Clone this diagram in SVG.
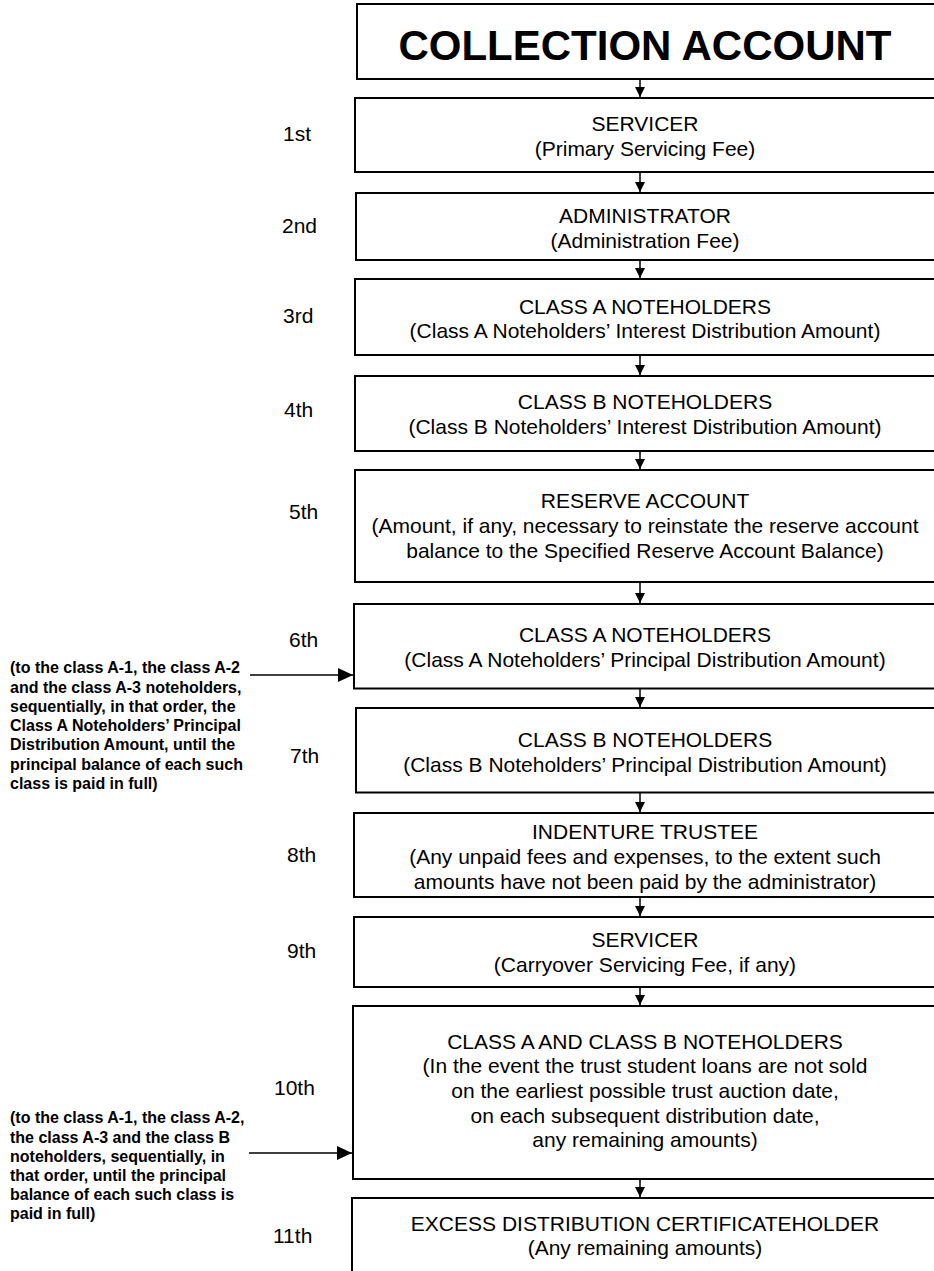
<svg xmlns="http://www.w3.org/2000/svg" width="934" height="1271" viewBox="0 0 934 1271">
<style>
.box{fill:#fff;stroke:#000;stroke-width:2}
.t{font-family:"Liberation Sans",Arial,sans-serif;font-size:21px;fill:#000;text-anchor:middle}
.title{font-family:"Liberation Sans",Arial,sans-serif;font-size:42px;font-weight:bold;fill:#000;text-anchor:middle}
.ord{font-family:"Liberation Sans",Arial,sans-serif;font-size:21px;fill:#000}
.note{font-family:"Liberation Sans",Arial,sans-serif;font-size:16px;font-weight:bold;fill:#000}
.c{stroke:#000;stroke-width:1.5;fill:none}
</style>
<defs>
<marker id="sm" markerUnits="userSpaceOnUse" markerWidth="10" markerHeight="10" refX="10" refY="5" orient="auto" viewBox="0 0 10 10"><path d="M0,0 L10,5 L0,10 z" fill="#000"/></marker>
<marker id="lg" markerUnits="userSpaceOnUse" markerWidth="15" markerHeight="14" refX="15" refY="7" orient="auto" viewBox="0 0 15 14"><path d="M0,0 L15,7 L0,14 z" fill="#000"/></marker>
</defs>
<g id="connectors">
<line class="c" x1="640" y1="79" x2="640" y2="97" marker-end="url(#sm)"/>
<line class="c" x1="640" y1="172" x2="640" y2="192" marker-end="url(#sm)"/>
<line class="c" x1="640" y1="260" x2="640" y2="278" marker-end="url(#sm)"/>
<line class="c" x1="640" y1="355" x2="640" y2="375" marker-end="url(#sm)"/>
<line class="c" x1="640" y1="451" x2="640" y2="469" marker-end="url(#sm)"/>
<line class="c" x1="640" y1="582" x2="640" y2="603" marker-end="url(#sm)"/>
<line class="c" x1="640" y1="688" x2="640" y2="707" marker-end="url(#sm)"/>
<line class="c" x1="640" y1="792" x2="640" y2="812" marker-end="url(#sm)"/>
<line class="c" x1="640" y1="897" x2="640" y2="916" marker-end="url(#sm)"/>
<line class="c" x1="640" y1="987" x2="640" y2="1005" marker-end="url(#sm)"/>
<line class="c" x1="640" y1="1179" x2="640" y2="1197" marker-end="url(#sm)"/>
<line class="c" x1="250" y1="675" x2="353" y2="675" marker-end="url(#lg)"/>
<line class="c" x1="249" y1="1153" x2="352" y2="1153" marker-end="url(#lg)"/>
</g>
<g id="collection">
<rect class="box" x="357" y="4" width="600" height="75"/>
<text class="title" x="645" y="60">COLLECTION ACCOUNT</text>
</g>
<g id="n1">
<rect class="box" x="355" y="98" width="600" height="74"/>
<text class="t" x="645" y="131">SERVICER</text>
<text class="t" x="645" y="156">(Primary Servicing Fee)</text>
<text class="ord" x="283" y="141">1st</text>
</g>
<g id="n2">
<rect class="box" x="356" y="193" width="600" height="67"/>
<text class="t" x="645" y="223">ADMINISTRATOR</text>
<text class="t" x="645" y="247.5">(Administration Fee)</text>
<text class="ord" x="282" y="233">2nd</text>
</g>
<g id="n3">
<rect class="box" x="355" y="279" width="600" height="76"/>
<text class="t" x="645" y="313.5">CLASS A NOTEHOLDERS</text>
<text class="t" x="645" y="338">(Class A Noteholders’ Interest Distribution Amount)</text>
<text class="ord" x="283" y="323">3rd</text>
</g>
<g id="n4">
<rect class="box" x="355" y="376" width="600" height="75"/>
<text class="t" x="645" y="409">CLASS B NOTEHOLDERS</text>
<text class="t" x="645" y="434">(Class B Noteholders’ Interest Distribution Amount)</text>
<text class="ord" x="284" y="417">4th</text>
</g>
<g id="n5">
<rect class="box" x="355" y="470" width="600" height="112"/>
<text class="t" x="645" y="508">RESERVE ACCOUNT</text>
<text class="t" x="645" y="533">(Amount, if any, necessary to reinstate the reserve account</text>
<text class="t" x="645" y="558">balance to the Specified Reserve Account Balance)</text>
<text class="ord" x="289" y="519">5th</text>
</g>
<g id="n6">
<rect class="box" x="354" y="604" width="600" height="84.5"/>
<text class="t" x="645" y="642">CLASS A NOTEHOLDERS</text>
<text class="t" x="645" y="667">(Class A Noteholders’ Principal Distribution Amount)</text>
<text class="ord" x="289" y="647">6th</text>
</g>
<g id="n7">
<rect class="box" x="356" y="708" width="600" height="84.5"/>
<text class="t" x="645" y="747">CLASS B NOTEHOLDERS</text>
<text class="t" x="645" y="772">(Class B Noteholders’ Principal Distribution Amount)</text>
<text class="ord" x="290" y="763">7th</text>
</g>
<g id="n8">
<rect class="box" x="354" y="813" width="600" height="84"/>
<text class="t" x="645" y="838.5">INDENTURE TRUSTEE</text>
<text class="t" x="645" y="863.5">(Any unpaid fees and expenses, to the extent such</text>
<text class="t" x="645" y="888.5">amounts have not been paid by the administrator)</text>
<text class="ord" x="287" y="862">8th</text>
</g>
<g id="n9">
<rect class="box" x="354" y="917" width="600" height="70"/>
<text class="t" x="645" y="947">SERVICER</text>
<text class="t" x="645" y="972">(Carryover Servicing Fee, if any)</text>
<text class="ord" x="287" y="958">9th</text>
</g>
<g id="n10">
<rect class="box" x="353" y="1006" width="600" height="173"/>
<text class="t" x="645" y="1048.5">CLASS A AND CLASS B NOTEHOLDERS</text>
<text class="t" x="645" y="1073">(In the event the trust student loans are not sold</text>
<text class="t" x="645" y="1098">on the earliest possible trust auction date,</text>
<text class="t" x="645" y="1122.5">on each subsequent distribution date,</text>
<text class="t" x="645" y="1147">any remaining amounts)</text>
<text class="ord" x="274" y="1095">10th</text>
</g>
<g id="n11">
<rect class="box" x="352" y="1198" width="600" height="100"/>
<text class="t" x="645" y="1231">EXCESS DISTRIBUTION CERTIFICATEHOLDER</text>
<text class="t" x="645" y="1255">(Any remaining amounts)</text>
<text class="ord" x="273" y="1243">11th</text>
</g>
<g id="note1">
<text class="note" x="10" y="673">(to the class A-1, the class A-2</text>
<text class="note" x="10" y="692.5">and the class A-3 noteholders,</text>
<text class="note" x="10" y="712">sequentially, in that order, the</text>
<text class="note" x="10" y="731">Class A Noteholders’ Principal</text>
<text class="note" x="10" y="750">Distribution Amount, until the</text>
<text class="note" x="10" y="769.5">principal balance of each such</text>
<text class="note" x="10" y="788.5">class is paid in full)</text>
</g>
<g id="note2">
<text class="note" x="10" y="1123">(to the class A-1, the class A-2,</text>
<text class="note" x="10" y="1142.5">the class A-3 and the class B</text>
<text class="note" x="10" y="1161.5">noteholders, sequentially, in</text>
<text class="note" x="10" y="1181">that order, until the principal</text>
<text class="note" x="10" y="1200">balance of each such class is</text>
<text class="note" x="10" y="1219">paid in full)</text>
</g>
</svg>
